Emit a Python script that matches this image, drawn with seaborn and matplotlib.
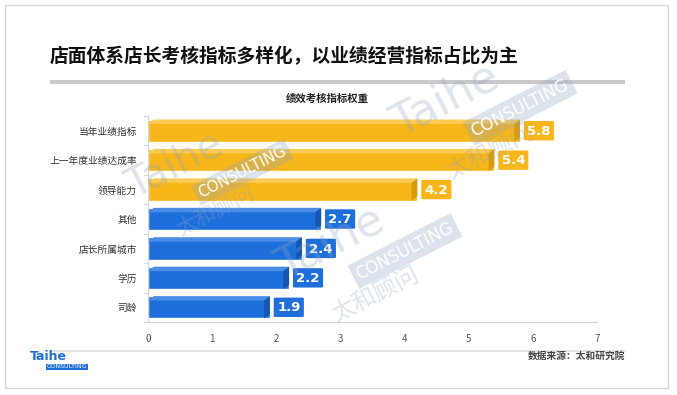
import numpy as np
import pandas as pd
import seaborn as sns
import matplotlib.pyplot as plt
from matplotlib.patches import Polygon, FancyBboxPatch, Rectangle

categories = ['当年业绩指标', '上一年度业绩达成率', '领导能力', '其他', '店长所属城市', '学历', '司龄']
values = [5.8, 5.4, 4.2, 2.7, 2.4, 2.2, 1.9]
groups = ['业绩', '业绩', '业绩', '其他', '其他', '其他', '其他']
x_ticks = [0, 1, 2, 3, 4, 5, 6, 7]

title = '店面体系店长考核指标多样化，以业绩经营指标占比为主'
sub_title = '绩效考核指标权重'
source = '数据来源：太和研究院'

colors = {'业绩': '#F7B619', '其他': '#1F6FDB'}
tops = {'业绩': '#FBCB55', '其他': '#4A8DE6'}
sides = {'业绩': '#D99A0C', '其他': '#1656B0'}

sns.set_theme(style='white')
plt.rcParams['font.family'] = ['Noto Sans CJK SC', 'DejaVu Sans']

df = pd.DataFrame({'cat': categories, 'val': values, 'grp': groups})

W, H = 677, 395
fig = plt.figure(figsize=(W / 100, H / 100), dpi=100)
fig.patch.set_facecolor('white')

# outer frame
fig.patches.append(Rectangle((5 / W, 1 - 388 / H), 663 / W, 383 / H, transform=fig.transFigure,
                             facecolor='none', edgecolor='#d8d8d8', lw=1.0))

fig.text(50 / W, 1 - 57 / H, title, fontsize=13.5, fontweight='bold', color='#111111', va='center')
fig.patches.append(Rectangle((50 / W, 1 - 84 / H), 575 / W, 4 / H, transform=fig.transFigure,
                             facecolor='#c9c9c9', edgecolor='none'))
fig.patches.append(Rectangle((50 / W, 1 - 352 / H), 575 / W, 2 / H, transform=fig.transFigure,
                             facecolor='#e3e3e6', edgecolor='none'))

ax = fig.add_axes([148 / W, 1 - 322 / H, 449 / W, 206 / H])
sns.barplot(data=df, y='cat', x='val', hue='grp', palette=colors, dodge=False,
            legend=False, width=0.76, ax=ax, zorder=2, saturation=1)

ax.set_xlim(0, 7)
ax.set_ylim(len(categories) - 0.5, -0.5)
ax.set_xticks(x_ticks)
ax.set_xticklabels([str(t) for t in x_ticks], fontsize=7, color='#555555')
ax.tick_params(axis='y', labelsize=7, colors='#333333', length=0, pad=8)
ax.tick_params(axis='x', length=3, color='#cccccc', pad=6)
ax.set_xlabel('')
ax.set_ylabel('')
for s in ['top', 'right']:
    ax.spines[s].set_visible(False)
for s in ['left', 'bottom']:
    ax.spines[s].set_color('#d5d5d5')
    ax.spines[s].set_linewidth(0.8)
# category separators on the y axis
for i in range(len(categories) + 1):
    ax.plot([-0.06, 0], [i - 0.5, i - 0.5], color='#d5d5d5', lw=0.8, clip_on=False)

ax.set_title(sub_title, fontsize=7.5, color='#222222', fontweight='bold', pad=10, x=0.4)

# 3D faces and label boxes
h = 0.76
dx, dy = 0.09, 0.15
for i, (v, g) in enumerate(zip(values, groups)):
    y0 = i - h / 2
    top = Polygon([(0, y0 + dy), (dx, y0), (v, y0), (v - dx, y0 + dy)],
                  closed=True, facecolor=tops[g], edgecolor='none', zorder=3)
    side = Polygon([(v - dx, y0 + dy), (v, y0), (v, i + h / 2 - dy), (v - dx, i + h / 2)],
                   closed=True, facecolor=sides[g], edgecolor='none', zorder=3)
    ax.add_patch(top)
    ax.add_patch(side)
    bx = v + 0.06
    box = FancyBboxPatch((bx, i - 0.33), 0.47, 0.66, boxstyle='round,pad=0,rounding_size=0.06',
                         mutation_aspect=1 / 3.0, facecolor=colors[g], edgecolor='none',
                         zorder=3, clip_on=False)
    ax.add_patch(box)
    ax.text(bx + 0.235, i + 0.02, f'{v:.1f}', ha='center', va='center', color='white',
            fontsize=9.5, fontweight='bold', zorder=4, family='DejaVu Sans')

# watermarks
wm = '#8ea5c2'
rot = 27
wm_alpha = 0.3
for (x, y, s) in [(445, 100, 1.0), (330, 243, 1.0), (175, 165, 0.9)]:
    fig.text(x / W, 1 - y / H, 'Taihe', fontsize=32 * s, color=wm, alpha=wm_alpha,
             rotation=rot, ha='center', va='center', family='DejaVu Sans', zorder=10)
    fig.text((x + 75 * s) / W, 1 - (y + 8 * s) / H, 'CONSULTING', fontsize=12 * s, color='white',
             rotation=rot, ha='center', va='center', family='DejaVu Sans', zorder=11,
             bbox=dict(boxstyle='square,pad=0.25', facecolor=wm, alpha=wm_alpha, edgecolor='none'))
    fig.text((x + 45 * s) / W, 1 - (y + 52 * s) / H, '太和顾问', fontsize=17 * s, color=wm,
             alpha=wm_alpha, rotation=rot, ha='center', va='center', zorder=10)

# footer
fig.text(625 / W, 1 - 356 / H, source, fontsize=7, color='#444444', style='italic',
         fontweight='bold', ha='right', va='center')
fig.text(30 / W, 1 - 356 / H, 'Taihe', fontsize=9, fontweight='bold', color='#1F6FDB',
         ha='left', va='center', family='DejaVu Sans')
fig.text(47 / W, 1 - 367 / H, 'CONSULTING', fontsize=4.5, color='white', ha='left',
         va='center', family='DejaVu Sans',
         bbox=dict(boxstyle='square,pad=0.15', facecolor='#1F6FDB', edgecolor='none'))

fig.savefig('out.png', dpi=100)
